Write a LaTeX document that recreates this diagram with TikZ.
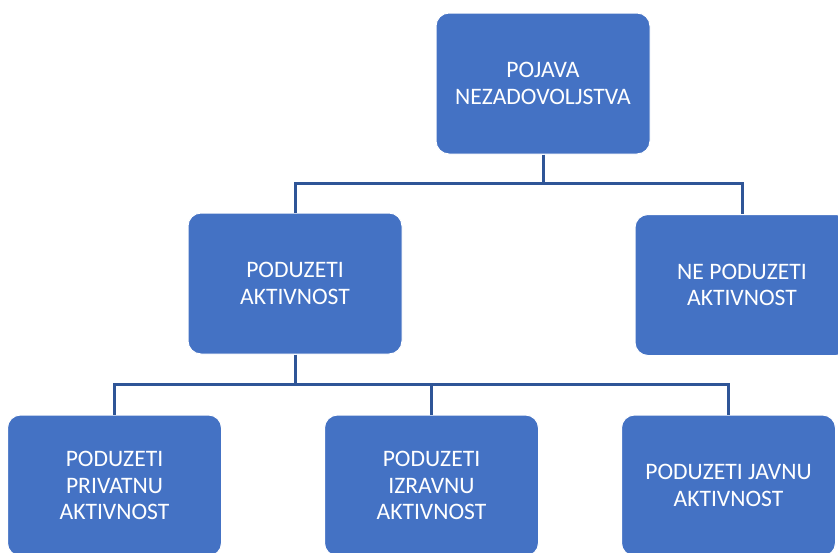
\documentclass[tikz,border=0pt]{standalone}
\usepackage{fontspec}
\setmainfont{Carlito}
\definecolor{boxblue}{HTML}{4472C4}
\definecolor{lineblue}{HTML}{2F5597}
\begin{document}
\begin{tikzpicture}[x=1pt,y=-1pt,
  box/.style={rectangle, rounded corners=13pt, fill=boxblue, draw=white, line width=1pt,
    minimum width=214pt, minimum height=141pt, inner sep=0pt, text=white, align=center,
    font=\fontsize{23.6}{26.5}\selectfont},
  conn/.style={draw=lineblue, line width=3pt}]
\useasboundingbox (0,0) rectangle (838,552);
\clip (0,0) rectangle (838,552);
\node[box] (top)  at (543,83.5)  {POJAVA\\NEZADOVOLJSTVA};
\node[box] (midL) at (295,283.5) {PODUZETI\\AKTIVNOST};
\node[box] (midR) at (742,285)   {NE PODUZETI\\AKTIVNOST};
\node[box] (botL) at (114.5,485.5) {PODUZETI\\PRIVATNU\\AKTIVNOST};
\node[box] (botM) at (431.5,485.5) {PODUZETI\\IZRAVNU\\AKTIVNOST};
\node[box] (botR) at (728.5,485.5) {PODUZETI JAVNU\\AKTIVNOST};
\coordinate (j1) at (543,183.5);
\coordinate (j2) at (295,384);
\draw[conn] (top.south) -- (j1) -| (midL.north);
\draw[conn] (j1) -| (midR.north);
\draw[conn] (midL.south) -- (j2) -| (botL.north);
\draw[conn] (j2) -| (botM.north);
\draw[conn] (j2) -| (botR.north);
\end{tikzpicture}
\end{document}
